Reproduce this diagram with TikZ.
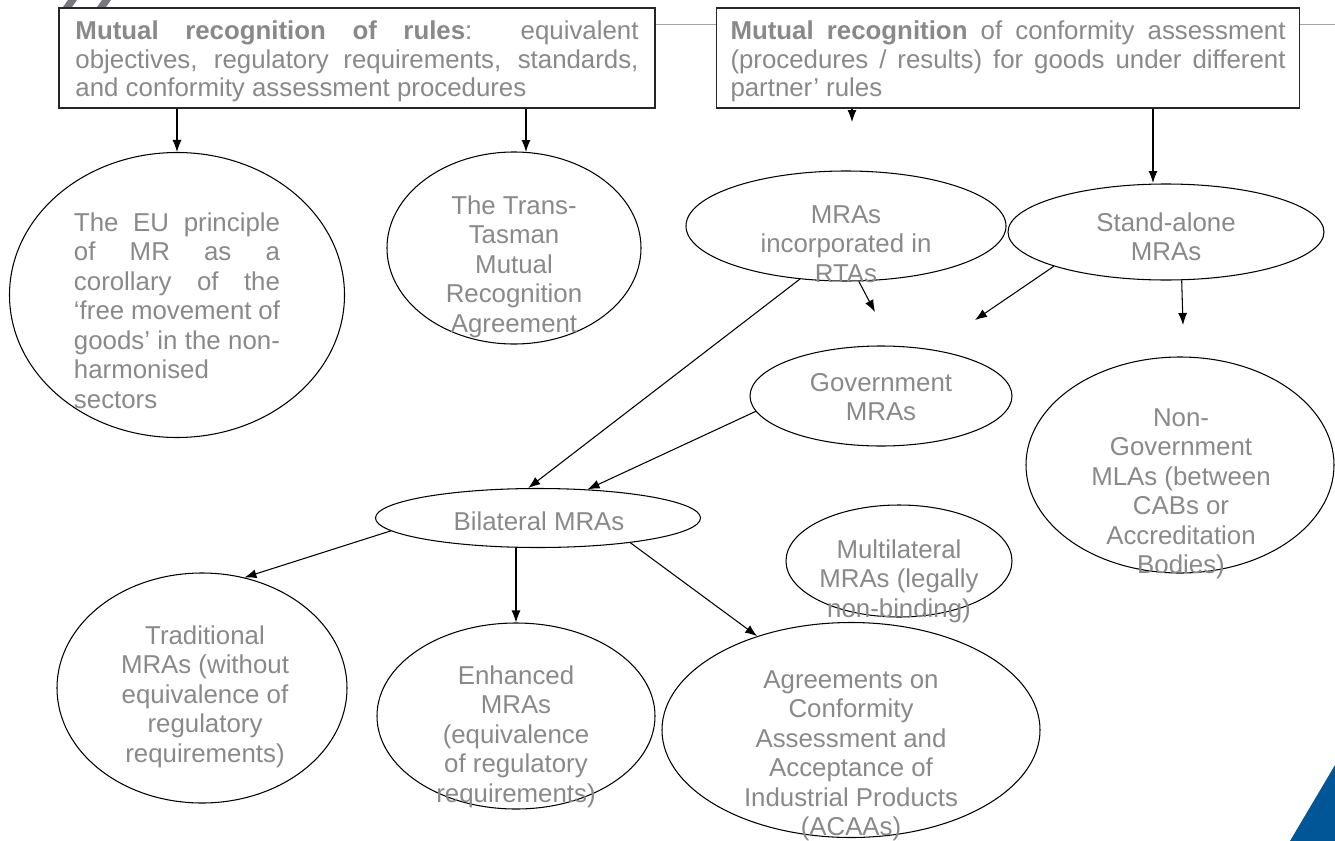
\documentclass[tikz,border=0pt]{standalone}
\usepackage{fontspec}
\setmainfont{Liberation Sans}
\usepackage{tikz}
\usetikzlibrary{positioning, arrows.meta, shapes, calc}
\definecolor{txtgray}{RGB}{137,137,137}
\definecolor{rulegray}{RGB}{165,165,165}
\definecolor{markgray}{RGB}{120,120,125}
\definecolor{cornerblue}{RGB}{0,86,150}

\begin{document}
\begin{tikzpicture}[x=0.2mm, y=-0.2mm,
	bubble/.style={draw, ellipse, line width=0.6pt, inner sep=0pt},
	txt/.style={anchor=north, align=center, inner sep=0pt, text=txtgray,
		font={\fontsize{14.7}{16.8}\selectfont}},
	box/.style={draw=black!85, fill=white, line width=0.8pt, align=justify,
		text=txtgray, inner ysep=0pt,
		font={\fontsize{14.7}{16.5}\selectfont\hyphenpenalty=10000\tolerance=9999}},
	arr/.style={-{Latex[length=2.4mm, width=1.8mm]}, line width=0.6pt}]
		
		\useasboundingbox (0,0) rectangle (1335,841);
		
		%Corner marks
		\fill[markgray] (63,7) -- (68,0) -- (77,0) -- (72,7) -- cycle;
		\fill[markgray] (97,7) -- (102,0) -- (111,0) -- (106,7) -- cycle;
		\fill[cornerblue] (1290,841) -- (1335,765) -- (1335,841) -- cycle;
		\draw[rulegray, line width=0.5pt] (655,24) -- (1335,24);
		
		%Top boxes
		\node[box, text width=112.6mm, inner xsep=3.3mm] (rules) at (357,58)
		{\rule{0pt}{6.2mm}\textbf{Mutual recognition of rules}: equivalent\linebreak
			objectives, regulatory requirements, standards,\linebreak
			and conformity assessment procedures\rule[-2.2mm]{0pt}{0pt}};
		\node[box, text width=111mm, inner xsep=2.8mm] (cab) at (1008,58)
		{\rule{0pt}{6.2mm}\textbf{Mutual recognition} of conformity assessment\linebreak
			(procedures / results) for goods under different\linebreak
			partner’ rules\rule[-2.2mm]{0pt}{0pt}};
		
		%Ellipses
		\node[bubble, minimum width=67mm, minimum height=57mm] (eu) at (177,295) {};
		\node[bubble, minimum width=50.8mm, minimum height=38.4mm] (tasman) at (514,248) {};
		\node[bubble, minimum width=64mm, minimum height=22mm] (rta) at (846,226) {};
		\node[bubble, minimum width=63.2mm, minimum height=19.2mm] (alone) at (1166,232) {};
		\node[bubble, minimum width=52.4mm, minimum height=20mm] (gov) at (881,396) {};
		\node[bubble, minimum width=61.6mm, minimum height=43.2mm] (ngov) at (1180,465) {};
		\node[bubble, minimum width=65mm, minimum height=11.8mm] (bil) at (538,518) {};
		\node[bubble, minimum width=45.2mm, minimum height=22.4mm] (multi) at (899,561) {};
		\node[bubble, minimum width=58mm, minimum height=46mm] (trad) at (202,688) {};
		\node[bubble, minimum width=55.6mm, minimum height=37.2mm] (enh) at (516,716) {};
		\node[bubble, minimum width=75.6mm, minimum height=43mm] (acaa) at (851,730) {};
		
		%Texts
		\node[txt, align=justify, text width=41.2mm,
		font={\fontsize{14.7}{16.8}\selectfont\hyphenpenalty=10000\tolerance=9999}]
		(eu-t) at (177,212) {The EU principle\linebreak of MR as a\linebreak
			corollary of the\linebreak ‘free movement of\linebreak
			goods’ in the non-\linebreak harmonised\\ sectors};
		\node[txt] (tasman-t) at (514,195) {The Trans-\\Tasman\\Mutual\\Recognition\\Agreement};
		\node[txt] (rta-t) at (846,205) {MRAs\\incorporated in\\RTAs};
		\node[txt] (alone-t) at (1166,212) {Stand-alone\\MRAs};
		\node[txt] (gov-t) at (881,373) {Government\\MRAs};
		\node[txt] (ngov-t) at (1181,408) {Non-\\Government\\MLAs (between\\CABs or\\Accreditation\\Bodies)};
		\node[txt] (bil-t) at (539,511) {Bilateral MRAs};
		\node[txt] (multi-t) at (899,539) {Multilateral\\MRAs (legally\\non-binding)};
		\node[txt] (trad-t) at (205,625) {Traditional\\MRAs (without\\equivalence of\\regulatory\\requirements)};
		\node[txt] (enh-t) at (516,665) {Enhanced\\MRAs\\(equivalence\\of regulatory\\requirements)};
		\node[txt] (acaa-t) at (851,670) {Agreements on\\Conformity\\Assessment and\\Acceptance of\\Industrial Products\\(ACAAs)};
		
		%Free arrow ends
		\coordinate (t-in) at (526,152);
		\coordinate (hang) at (852,122);
		\coordinate (sa-in) at (1153,183);
		\coordinate (g-in) at (875,312);
		\coordinate (g-in2) at (975,320);
		\coordinate (ng-in) at (1183,325);
		
		%Arrows
		\draw[arr] (rules.south -| eu.north) -- (eu.north);
		\draw[arr] (rules.south -| t-in) -- (t-in);
		\draw[arr] (cab.south -| hang) -- (hang);
		\draw[arr] (cab.south -| sa-in) -- (sa-in);
		\draw[arr] (rta.-77) -- (g-in);
		\draw[arr] (alone.197) -- (g-in2);
		\draw[arr] (alone.-72) -- (ng-in);
		\draw[arr] (rta.-131) -- (bil.108);
		\draw[arr] (gov.187) -- (bil.30);
		\draw[arr] (bil.185) -- (trad.69);
		\draw[arr] (bil.south -| enh.north) -- (enh.north);
		\draw[arr] (bil.-15) -- (acaa.135);
		
\end{tikzpicture}
\end{document}
